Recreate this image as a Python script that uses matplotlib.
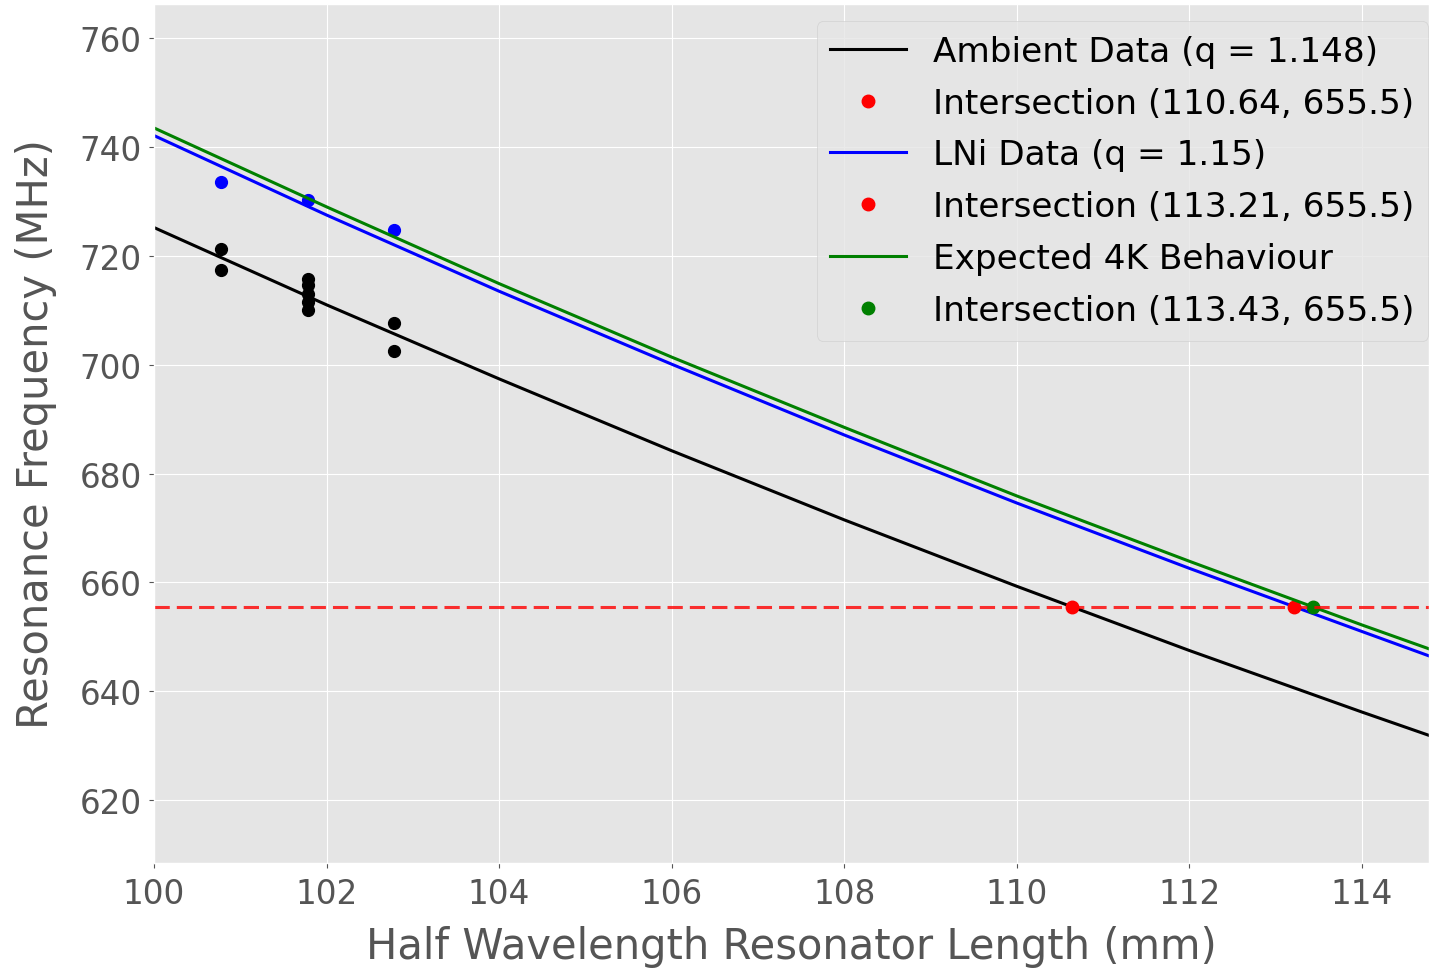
import numpy as np
import matplotlib.pyplot as plt

plt.style.use('ggplot')

# measured points
x_pts = [100.78, 101.78, 102.78]
ambient_x = [100.78, 100.78, 101.78, 101.78, 101.78, 101.78, 101.78, 102.78, 102.78]
ambient_y = [721.2, 717.4, 715.7, 714.6, 712.9, 711.6, 710.1, 707.7, 702.5]
lni_y = [733.5, 730.2, 724.8]

# fitted curves
L_fit = [100, 102, 104, 106, 108, 110, 112, 114, 114.78]
ambient_fit = [725.2, 711.0, 697.4, 684.2, 671.5, 659.3, 647.5, 636.2, 631.9]
lni_fit = [742.1, 727.5, 713.5, 700.1, 687.1, 674.6, 662.6, 651.0, 646.5]
expected_fit = [743.5, 729.0, 714.9, 701.4, 688.5, 675.9, 663.9, 652.2, 647.8]

target_f = 655.5
ix_ambient = 110.64
ix_lni = 113.21
ix_expected = 113.43

fig = plt.figure(figsize=(14.29, 9.70), dpi=100)
ax = fig.add_axes([0.1078, 0.109, 0.8922, 0.886])

ax.plot(ambient_x, ambient_y, 'o', color='black', markersize=8.5)
ax.plot(x_pts, lni_y, 'o', color='blue', markersize=8.5)

ax.plot(L_fit, ambient_fit, color='black', lw=2.2, label='Ambient Data (q = 1.148)')
ax.plot(ix_ambient, target_f, 'o', color='red', markersize=9, label=f'Intersection ({ix_ambient:.2f}, {target_f})')
ax.plot(L_fit, lni_fit, color='blue', lw=2.2, label='LNi Data (q = 1.15)')
ax.plot(ix_lni, target_f, 'o', color='red', markersize=9, label=f'Intersection ({ix_lni:.2f}, {target_f})')
ax.plot(L_fit, expected_fit, color='green', lw=2.2, label='Expected 4K Behaviour')
ax.plot(ix_expected, target_f, 'o', color='green', markersize=9, label=f'Intersection ({ix_expected:.2f}, {target_f})')

ax.axhline(target_f, color='red', linestyle='--', lw=2.2, alpha=0.8, dashes=(5, 2.3))

ax.set_xlim(100, 114.78)
ax.set_ylim(608.4, 766.3)
ax.set_xticks(np.arange(100, 115, 2))
ax.set_yticks(np.arange(620, 761, 20))
ax.tick_params(labelsize=23.5, colors='#555555')
ax.tick_params(axis='x', pad=6.5)
ax.tick_params(axis='y', pad=5.5)
ax.set_xlabel('Half Wavelength Resonator Length (mm)', fontsize=30, color='#555555', labelpad=11)
ax.set_ylabel('Resonance Frequency (MHz)', fontsize=30, color='#555555', labelpad=16)

ax.legend(loc='upper right', bbox_to_anchor=(1.013, 1.0), fontsize=24.7,
          handlelength=2.2, labelspacing=0.55)

fig.savefig('out.png', dpi=100)
